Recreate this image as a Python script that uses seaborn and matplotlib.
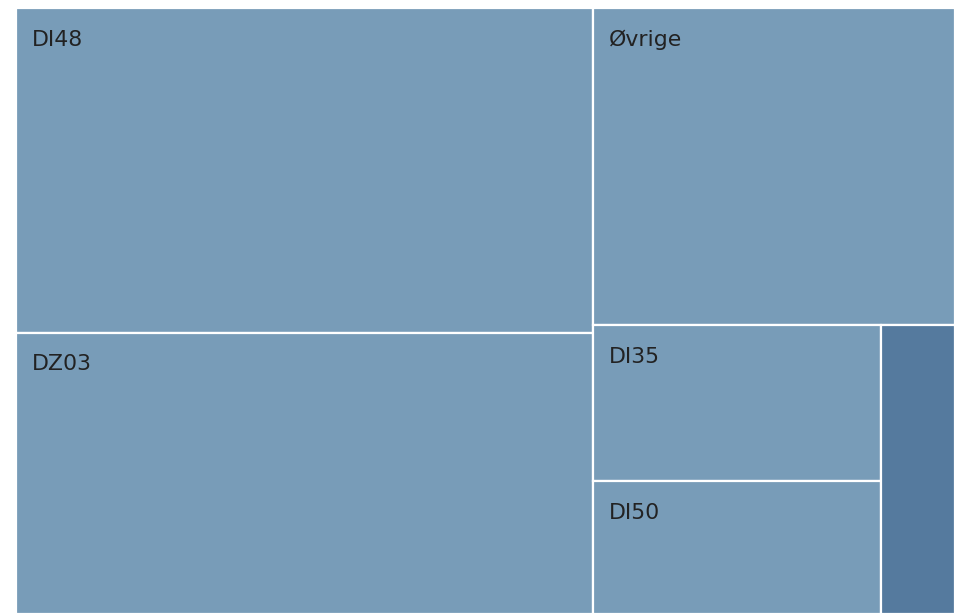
import matplotlib
matplotlib.use("Agg")
import matplotlib.pyplot as plt
from matplotlib.patches import Rectangle
import seaborn as sns

# ---- data ----
names = ["DI48", "DZ03", "Øvrige", "DI35", "DI50", "DI21"]
values = [1318, 1140, 807, 316, 269, 150]
colors = ["#789cb8", "#789cb8", "#789cb8", "#789cb8", "#789cb8", "#557a9e"]

# ---- layout (squarified, comparing aspect ratio of previous element) ----
W, H = 939.0, 606.0


def aspect(a, b):
    return max(a / b, b / a)


def squarify(vals, x, y, w, h):
    total = float(sum(vals))
    areas = [v / total * w * h for v in vals]
    rects = []
    direction = 0  # 0 = column on the left, 1 = row on top
    group = []

    def place(grp, x, y, w, h, direction):
        s = sum(grp)
        out = []
        if direction == 0:
            t = s / h
            cy = y
            for a in grp:
                out.append((x, cy, t, a / t))
                cy += a / t
            return out, x + t, y, w - t, h
        else:
            t = s / w
            cx = x
            for a in grp:
                out.append((cx, y, a / t, t))
                cx += a / t
            return out, x, y + t, w, h - t

    for a in areas:
        if group:
            prev = group[-1]
            side = h if direction == 0 else w
            old_t = sum(group) / side
            new_t = (sum(group) + a) / side
            old_r = aspect(old_t, prev / old_t)
            new_r = aspect(new_t, prev / new_t)
            if new_r > old_r:
                out, x, y, w, h = place(group, x, y, w, h, direction)
                rects += out
                direction = 1 - direction
                group = []
        group.append(a)
    out, x, y, w, h = place(group, x, y, w, h, direction)
    rects += out
    return rects


rects = squarify(values, 0.0, 0.0, W, H)

sns.set_theme(style="white")
plt.rcParams["font.family"] = ["DejaVu Sans"]

fig = plt.figure(figsize=(9.55, 6.14), dpi=100)
ax = fig.add_axes([16 / 955, 0.0, W / 955, H / 614])
ax.set_xlim(0, W)
ax.set_ylim(H, 0)
ax.axis("off")

for (rx, ry, rw, rh), name, col in zip(rects, names, colors):
    ax.add_patch(Rectangle((rx, ry), rw, rh, facecolor=col, edgecolor="white", linewidth=1.6))
    if rw > 100 and rh > 60:
        ax.text(rx + 16, ry + 37.5, name, fontsize=15.8, color="#222222",
                ha="left", va="baseline")

fig.savefig("out.png", dpi=100)
